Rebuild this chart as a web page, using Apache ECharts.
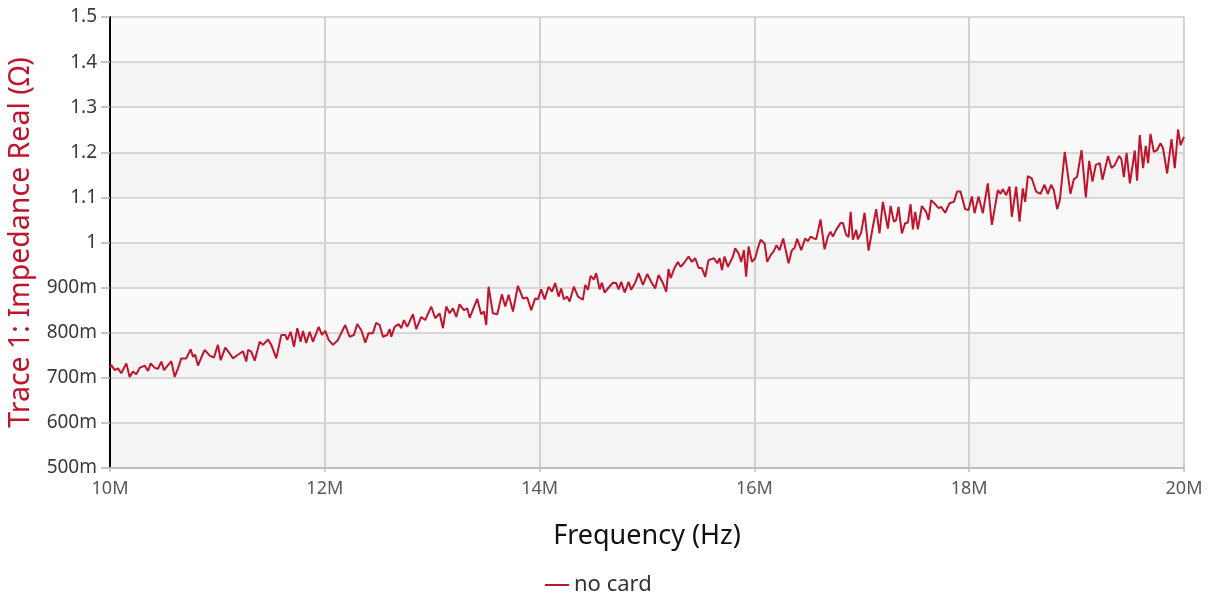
<!DOCTYPE html>
<html><head><meta charset="utf-8">
<script src="https://cdn.jsdelivr.net/npm/echarts@6/dist/echarts.min.js"></script>
<style>html,body{margin:0;padding:0;background:#fff}#c{width:1213px;height:596px}</style>
</head><body><div id="c"></div>
<script>
// Frequency (MHz) / Impedance real (Ohm)
const trace_10_11 = [[10.000,0.722],[10.012,0.728],[10.044,0.717],[10.074,0.721],[10.105,0.710],[10.152,0.732],[10.183,0.702],[10.214,0.714],[10.245,0.708],[10.276,0.722],[10.323,0.727],[10.354,0.715],[10.379,0.732],[10.416,0.722],[10.447,0.720],[10.478,0.736],[10.503,0.717],[10.540,0.728],[10.571,0.737],[10.602,0.702],[10.633,0.721],[10.664,0.743],[10.710,0.743],[10.751,0.763],[10.773,0.747],[10.794,0.751],[10.819,0.727],[10.850,0.745],[10.882,0.762],[10.928,0.749],[10.968,0.745],[11.005,0.773],[11.031,0.739],[11.073,0.767],[11.114,0.754],[11.145,0.743],[11.192,0.751],[11.238,0.759],[11.269,0.736]];
const trace_11_12 = [[11.285,0.762],[11.315,0.758],[11.347,0.738],[11.394,0.780],[11.424,0.773],[11.471,0.785],[11.502,0.773],[11.548,0.743],[11.595,0.795],[11.632,0.795],[11.651,0.784],[11.682,0.802],[11.713,0.769],[11.744,0.810],[11.775,0.780],[11.797,0.804],[11.827,0.777],[11.859,0.802],[11.890,0.780],[11.943,0.813],[11.974,0.795],[12.004,0.804],[12.036,0.784],[12.076,0.773],[12.123,0.784],[12.153,0.799],[12.190,0.817],[12.231,0.791],[12.271,0.795],[12.302,0.819],[12.339,0.806],[12.377,0.778],[12.408,0.799],[12.448,0.799],[12.479,0.822],[12.511,0.817],[12.541,0.791],[12.581,0.795],[12.604,0.808]];
const trace_12_14 = [[12.619,0.791],[12.650,0.813],[12.688,0.819],[12.712,0.810],[12.737,0.828],[12.768,0.813],[12.821,0.841],[12.851,0.808],[12.898,0.835],[12.935,0.828],[12.991,0.858],[13.028,0.832],[13.069,0.843],[13.100,0.810],[13.131,0.858],[13.162,0.843],[13.193,0.854],[13.224,0.835],[13.255,0.863],[13.295,0.850],[13.326,0.854],[13.349,0.833],[13.419,0.875],[13.456,0.841],[13.482,0.847],[13.503,0.817],[13.525,0.902],[13.565,0.843],[13.606,0.841],[13.649,0.885],[13.680,0.858],[13.712,0.884],[13.752,0.847],[13.798,0.904],[13.845,0.876],[13.885,0.878],[13.922,0.850]];
const trace_14_15 = [[13.959,0.876],[13.984,0.874],[14.015,0.896],[14.047,0.874],[14.084,0.902],[14.115,0.891],[14.145,0.910],[14.177,0.880],[14.201,0.898],[14.226,0.874],[14.257,0.880],[14.279,0.869],[14.319,0.902],[14.357,0.880],[14.403,0.873],[14.425,0.906],[14.450,0.895],[14.475,0.926],[14.506,0.918],[14.527,0.932],[14.559,0.896],[14.580,0.911],[14.605,0.889],[14.636,0.898],[14.683,0.911],[14.713,0.910],[14.736,0.896],[14.760,0.913],[14.792,0.889],[14.829,0.913],[14.853,0.895],[14.890,0.911],[14.922,0.932],[14.962,0.906],[15.002,0.930],[15.039,0.913],[15.076,0.898],[15.108,0.928],[15.148,0.910],[15.179,0.891],[15.201,0.941]];
const trace_15_16 = [[15.220,0.921],[15.257,0.944],[15.288,0.957],[15.313,0.946],[15.343,0.954],[15.387,0.969],[15.418,0.957],[15.449,0.965],[15.480,0.944],[15.511,0.943],[15.542,0.924],[15.573,0.961],[15.623,0.965],[15.654,0.954],[15.676,0.965],[15.698,0.939],[15.722,0.969],[15.753,0.946],[15.800,0.969],[15.821,0.987],[15.853,0.976],[15.877,0.957],[15.902,0.983],[15.923,0.924],[15.946,0.991],[15.977,0.957],[16.007,0.965],[16.032,0.987],[16.058,1.006],[16.095,0.998],[16.119,0.957],[16.151,0.972],[16.181,0.981],[16.206,0.994],[16.234,0.983],[16.268,1.009],[16.318,0.954],[16.349,0.983],[16.374,0.988],[16.398,1.008],[16.436,0.983],[16.473,1.009],[16.498,1.003],[16.523,1.013]];
const trace_16_17 = [[16.554,1.009],[16.575,1.007],[16.616,1.051],[16.653,0.985],[16.684,1.013],[16.709,1.024],[16.731,1.013],[16.761,1.028],[16.802,1.043],[16.824,1.043],[16.854,1.017],[16.877,1.012],[16.896,1.068],[16.917,1.006],[16.948,1.028],[16.963,1.007],[16.994,1.022],[17.026,1.066],[17.063,0.982],[17.103,1.035],[17.134,1.074],[17.165,1.020],[17.196,1.090],[17.243,1.031],[17.268,1.081],[17.299,1.046],[17.320,1.050],[17.342,1.079],[17.373,1.020],[17.404,1.043],[17.429,1.044],[17.454,1.085],[17.476,1.029],[17.497,1.068],[17.522,1.029],[17.559,1.081],[17.599,1.068],[17.621,1.050],[17.646,1.094],[17.683,1.085],[17.715,1.076],[17.739,1.079],[17.776,1.066],[17.817,1.087]];
const trace_17_18 = [[17.857,1.090],[17.888,1.113],[17.919,1.113],[17.962,1.074],[17.994,1.072],[18.025,1.102],[18.050,1.065],[18.087,1.102],[18.127,1.065],[18.173,1.131],[18.211,1.039],[18.267,1.116],[18.292,1.108],[18.313,1.118],[18.344,1.105],[18.376,1.124],[18.397,1.057],[18.437,1.124],[18.469,1.046],[18.499,1.120],[18.521,1.090],[18.546,1.147],[18.583,1.142],[18.623,1.113],[18.664,1.108],[18.701,1.128],[18.732,1.108],[18.763,1.128],[18.788,1.116],[18.819,1.074]];
const trace_18_20 = [[18.844,1.094],[18.890,1.201],[18.943,1.108],[18.974,1.140],[19.005,1.146],[19.046,1.205],[19.086,1.100],[19.117,1.181],[19.148,1.135],[19.179,1.172],[19.216,1.176],[19.241,1.139],[19.293,1.192],[19.325,1.165],[19.356,1.172],[19.396,1.192],[19.418,1.184],[19.440,1.145],[19.465,1.199],[19.496,1.131],[19.542,1.204],[19.563,1.137],[19.588,1.238],[19.619,1.165],[19.644,1.214],[19.666,1.176],[19.688,1.241],[19.719,1.201],[19.750,1.205],[19.781,1.220],[19.805,1.209],[19.843,1.153],[19.884,1.229],[19.914,1.165],[19.945,1.251],[19.968,1.216],[20.000,1.234]];
const seriesName = 'no card';
const xTitle = 'Frequency (Hz)';
const yTitle = 'Trace 1: Impedance Real (Ω)';

const data = [].concat(trace_10_11, trace_11_12, trace_12_14, trace_14_15, trace_15_16, trace_16_17, trace_17_18, trace_18_20);
const RED = '#c0142c';
const FONT = 'Noto Sans';
const chart = echarts.init(document.getElementById('c'), null, {renderer: 'canvas'});
chart.setOption({
  animation: false,
  textStyle: {fontFamily: FONT},
  grid: {left: 110, right: 29, top: 17, bottom: 128, containLabel: false, outerBoundsMode: 'none'},
  legend: {
    top: 569, left: 540,
    icon: 'rect', itemWidth: 24, itemHeight: 2, itemGap: 10,
    textStyle: {fontFamily: FONT, fontSize: 22, color: '#333'},
    data: [seriesName]
  },
  xAxis: {
    type: 'value', min: 10, max: 20, interval: 2,
    name: xTitle, nameLocation: 'middle', nameGap: 55,
    nameTextStyle: {fontFamily: FONT, fontSize: 27, color: '#111'},
    axisLine: {show: true, lineStyle: {color: '#bdbdbd', width: 2}},
    axisTick: {show: true, length: 4, lineStyle: {color: '#bdbdbd', width: 1.5}},
    axisLabel: {fontFamily: FONT, fontSize: 18, color: '#595959', margin: 12, formatter: v => v + 'M'},
    splitLine: {show: true, lineStyle: {color: '#d2d2d2', width: 2}}
  },
  yAxis: {
    type: 'value', min: 0.5, max: 1.5, interval: 0.1,
    name: yTitle, nameLocation: 'middle', nameGap: 74,
    nameTextStyle: {fontFamily: FONT, fontSize: 28.5, color: RED},
    axisLine: {show: true, onZero: false, lineStyle: {color: '#000', width: 2}},
    axisTick: {show: true, length: 9, lineStyle: {color: '#b5b5b5', width: 1.5}},
    axisLabel: {fontFamily: FONT, fontSize: 19, color: '#3a3a3a', margin: 13,
      formatter: v => v < 0.999 ? Math.round(v * 1000) + 'm' : String(+v.toFixed(1))},
    splitLine: {show: true, lineStyle: {color: '#cdcdcd', width: 1.5}},
    splitArea: {show: true, areaStyle: {color: ['#f4f4f4', '#fafafa']}}
  },
  series: [{
    name: seriesName, type: 'line', data: data,
    showSymbol: false, symbol: 'none',
    lineStyle: {color: RED, width: 2},
    itemStyle: {color: RED}
  }]
});
</script></body></html>
